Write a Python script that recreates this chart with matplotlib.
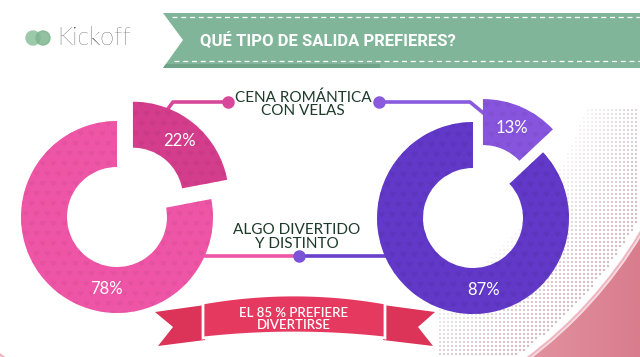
import numpy as np
import matplotlib
matplotlib.use("Agg")
import matplotlib.pyplot as plt
from matplotlib.colors import to_rgb
from matplotlib.patches import Polygon, Circle
from matplotlib.path import Path
from matplotlib.textpath import TextPath

W, H = 640, 357

TITULO = "QUÉ TIPO DE SALIDA PREFIERES?"
MARCA = "Kickoff"
CATEGORIAS = ["CENA ROMÁNTICA\nCON VELAS", "ALGO DIVERTIDO\nY DISTINTO"]
GRUPO_A = [22, 78]   # donut izquierdo (rosa)
GRUPO_B = [13, 87]   # donut derecho (morado)
RESUMEN = "EL 85 % PREFIERE\nDIVERTIRSE"

COLORES_A = ["#d43d8c", "#ef55a6"]
COLORES_B = ["#8755dd", "#6138c7"]
VERDE = "#80b59a"
TEXTO = "#1d3a2a"
ROJO = "#e6395f"

FUENTE = ["Lato", "DejaVu Sans"]


def Y(y):
    # coordenadas de imagen (y hacia abajo) -> datos
    return H - y


def corazon():
    tp = TextPath((0, 0), "\u2665", size=1, prop={"family": "DejaVu Sans"})
    ext = tp.get_extents()
    v = tp.vertices.copy()
    v -= [ext.x0 + ext.width / 2, ext.y0 + ext.height / 2]
    return Path(v, tp.codes)


HEART = corazon()


def donut(ax, valores, colores, centro, ang_grande, explode=25, radio=96, ancho=46):
    cx, cy = centro[0], Y(centro[1])
    wedges, _ = ax.pie(valores, colors=colores, startangle=90, counterclock=False,
                       radius=radio, center=(cx, cy), explode=[explode, 0],
                       wedgeprops=dict(width=ancho, linewidth=0), frame=True)
    # textura de corazones
    gx, gy = [], []
    for j, yy in enumerate(np.arange(cy - radio - 40, cy + radio + 40, 10)):
        off = 5.5 if j % 2 else 0
        for xx in np.arange(cx - radio - 40, cx + radio + 40, 11):
            gx.append(xx + off)
            gy.append(yy)
    for w, c in zip(wedges, colores):
        w.set_zorder(3)
        dark = tuple(min(1, k * 0.9) for k in to_rgb(c))
        sc = ax.scatter(gx, gy, marker=HEART, s=26, color=dark, alpha=0.45,
                        linewidths=0, zorder=3.1)
        sc.set_clip_path(w)
    # etiquetas
    mid = np.deg2rad(90 - 360 * valores[0] / 100 / 2)
    r_txt = explode + radio - ancho / 2
    ax.text(cx + r_txt * np.cos(mid), cy + r_txt * np.sin(mid), f"{valores[0]}%",
            color="white", fontsize=12, ha="center", va="center", family=FUENTE, zorder=5)
    a = np.deg2rad(ang_grande)
    r_txt = radio - ancho / 2
    ax.text(cx + r_txt * np.cos(a), cy + r_txt * np.sin(a), f"{valores[1]}%",
            color="white", fontsize=12, ha="center", va="center", family=FUENTE, zorder=5)


fig = plt.figure(figsize=(6.4, 3.57), dpi=100)
ax = fig.add_axes([0, 0, 1, 1])

# ---- fondo rosa de la esquina con semitono ----
grad = np.linspace(0, 1, 200)[None, :] * np.ones((120, 1))
ax.imshow(grad, extent=(440, W, Y(357), Y(150)), cmap=matplotlib.colors.LinearSegmentedColormap.from_list(
    "p", ["#eaa2ae", "#d97d8d"]), aspect="auto", zorder=0)
cc = (266, Y(9))
ax.add_patch(Circle(cc, 438, color="#f6dbe0", zorder=0.5))
ax.add_patch(Circle(cc, 434, color="white", zorder=0.6))
ax.add_patch(Circle(cc, 436, fill=False, ec="#eeb3be", lw=1.2, zorder=0.7))
hx, hy, hs = [], [], []
for xx in np.arange(440, W, 4.0):
    for yy in np.arange(110, H, 4.0):
        r = np.hypot(xx - 266, yy - 9)
        if 335 < r < 428:
            hx.append(xx)
            hy.append(Y(yy))
            hs.append(0.4 + 2.6 * (r - 335) / 93)
ax.scatter(hx, hy, s=hs, color="#d3bcc3", linewidths=0, zorder=0.8)

# ---- cabecera ----
ax.add_patch(Polygon([(163, Y(13)), (W, Y(13)), (W, Y(68)), (163, Y(68)), (183, Y(40))],
                     closed=True, color=VERDE, lw=0, zorder=2))
ax.add_patch(Polygon([(166, Y(64)), (380, Y(64)), (380, Y(68)), (163, Y(68))],
                     closed=True, color="#6fa488", lw=0, zorder=2.1))
ax.plot([172, W], [Y(17), Y(17)], color="white", lw=0.9, ls=(0, (4, 3)), zorder=2.2)
ax.plot([174, W], [Y(61), Y(61)], color="white", lw=0.9, ls=(0, (4, 3)), zorder=2.2)
ax.text(200, Y(41), TITULO, color="white", fontsize=12, fontweight="bold",
        family=["Roboto", "DejaVu Sans"], ha="left", va="center", zorder=3)

ax.add_patch(Circle((33, Y(38)), 7, color="#9cc9a9", zorder=2))
ax.add_patch(Circle((43, Y(38)), 7, color="#7fb58f", alpha=0.85, zorder=2.1))
ax.text(57, Y(38), MARCA, color="#111111", fontsize=18, fontweight="light",
        family=FUENTE, ha="left", va="center", zorder=3)

# ---- conectores ----
ROSA_L = "#d8489a"
MORADO_L = "#8a5ade"
ax.plot([167, 173, 228], [Y(110), Y(102), Y(102)], color=ROSA_L, lw=2.6, zorder=2,
        solid_capstyle="butt")
ax.plot([379, 470, 487], [Y(102), Y(102), Y(116)], color=MORADO_L, lw=2.6, zorder=2,
        solid_capstyle="butt")
ax.plot([200, 299], [Y(256), Y(256)], color=COLORES_A[1], lw=2.6, zorder=2)
ax.plot([299, 390], [Y(256), Y(256)], color="#6a40cc", lw=2.6, zorder=2)
ax.plot([228], [Y(102)], "o", ms=8, color=ROSA_L, zorder=4)
ax.plot([379], [Y(102)], "o", ms=8, color=MORADO_L, zorder=4)
ax.plot([299], [Y(256)], "o", ms=8, color="#7b52d8", zorder=4)

ax.text(303, Y(104), CATEGORIAS[0], color=TEXTO, fontsize=11, ha="center", va="center",
        family=FUENTE, linespacing=0.95, zorder=5)
ax.text(297, Y(237), CATEGORIAS[1], color=TEXTO, fontsize=11, ha="center", va="center",
        family=FUENTE, linespacing=0.95, zorder=5)

# ---- donuts ----
donut(ax, GRUPO_A, COLORES_A, (117, 217), 262)
donut(ax, GRUPO_B, COLORES_B, (473, 218), 278)

# ---- cinta inferior ----
ax.add_patch(Polygon([(205, Y(305)), (155, Y(312)), (173, Y(327)), (158, Y(346)), (205, Y(340))],
                     closed=True, color="#dc3358", lw=0, zorder=6))
ax.add_patch(Polygon([(383, Y(305)), (435, Y(312)), (418, Y(327)), (433, Y(346)), (383, Y(340))],
                     closed=True, color="#dc3358", lw=0, zorder=6))
t = np.linspace(-1, 1, 40)
bx = 294 + 91 * t
top = [(x, Y(303 - 8 * (1 - s ** 2))) for x, s in zip(bx, t)]
bot = [(x, Y(338 - 5 * (1 - s ** 2))) for x, s in zip(bx[::-1], t[::-1])]
ax.add_patch(Polygon(top + bot, closed=True, fc=ROJO, ec="white", lw=2, zorder=7))
ax.text(294, Y(319), RESUMEN, color="white", fontsize=9.5, fontweight="semibold",
        ha="center", va="center", family=FUENTE, linespacing=1.0, zorder=8)

ax.set_xlim(0, W)
ax.set_ylim(0, H)
ax.set_aspect("equal", adjustable="box")
ax.axis("off")
fig.savefig("out.png", dpi=100, facecolor="white")
